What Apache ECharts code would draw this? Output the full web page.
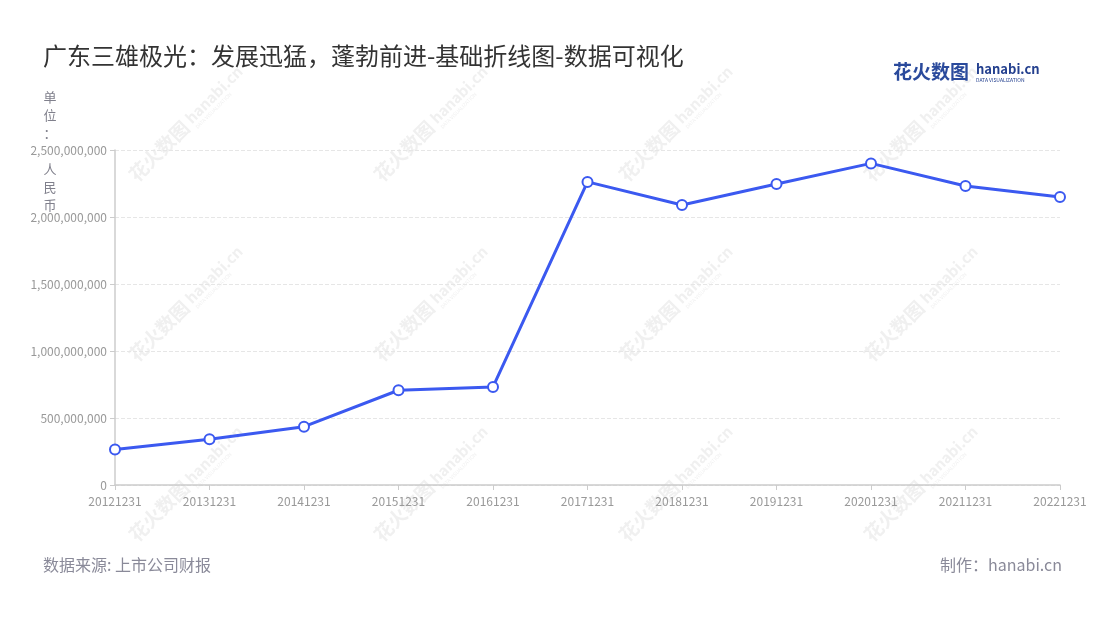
<!DOCTYPE html>
<html lang="zh">
<head>
    <meta charset="utf-8"/>
    <title>广东三雄极光</title>
    <script src="https://cdn.jsdelivr.net/npm/echarts@6/dist/echarts.min.js"></script>
    <style>
        html, body { margin: 0; padding: 0; background: #fff; }
        #chart { width: 1100px; height: 620px; }
    </style>
</head>
<body>
<div id="chart"></div>
<script type="text/javascript">
    // 报告期
    var periods = ['20121231', '20131231', '20141231', '20151231', '20161231', '20171231',
        '20181231', '20191231', '20201231', '20211231', '20221231'];
    // 数值（人民币）
    var values = [265000000, 342000000, 435000000, 707000000, 732000000, 2262000000,
        2090000000, 2246000000, 2400000000, 2231000000, 2149000000];
    // y轴刻度
    var yMin = 0, yMax = 2500000000, yStep = 500000000;
    var yName = '单\n位\n：\n \n人\n民\n币';

    var font = '"Noto Sans CJK SC", "Noto Sans", sans-serif';

    // 水印
    var marks = [];
    var xs = [184, 429, 674, 919];
    var ys = [128, 308, 488];
    for (var i = 0; i < xs.length; i++) {
        for (var j = 0; j < ys.length; j++) {
            marks.push({
                type: 'group',
                x: xs[i], y: ys[j],
                rotation: Math.PI / 4,
                silent: true,
                z: 0,
                children: [
                    {type: 'text', x: -72, y: -11, style: {text: '花火数图', fill: '#f0f0f0', font: 'bold 19px ' + font}},
                    {type: 'text', x: 8, y: -10, style: {text: 'hanabi.cn', fill: '#f0f0f0', font: 'bold 15px ' + font}},
                    {type: 'text', x: 9, y: 6, style: {text: 'DATA VISUALIZATION', fill: '#f0f0f0', font: '5px ' + font}}
                ]
            });
        }
    }

    var myChart = echarts.init(document.getElementById('chart'));
    var option = {
        backgroundColor: '#fff',
        textStyle: {fontFamily: font},
        title: {
            text: '广东三雄极光：发展迅猛，蓬勃前进-基础折线图-数据可视化',
            left: 38,
            top: 39,
            textStyle: {fontSize: 24, fontWeight: 'normal', color: '#333', fontFamily: font}
        },
        graphic: marks.concat([
            // logo
            {type: 'text', left: 893, top: 62, style: {text: '花火数图', fill: '#2a4a9c', font: 'bold 19px ' + font}},
            {type: 'text', left: 976, top: 63, style: {text: 'hanabi.cn', fill: '#24408f', font: 'bold 13px "Liberation Sans Narrow", ' + font}},
            {type: 'text', left: 976, top: 78, style: {text: 'DATA VISUALIZATION', fill: '#24408f', font: '5px ' + font}},
            // y轴单位
            {
                type: 'text', x: 50, y: 151,
                style: {
                    text: yName, fill: '#80808c', font: '13px ' + font, lineHeight: 18,
                    textAlign: 'center', textVerticalAlign: 'middle'
                }
            },
            // 底部
            {type: 'text', left: 43, top: 557, style: {text: '数据来源: 上市公司财报', fill: '#8a8a99', font: '16px ' + font}},
            {type: 'text', right: 38, top: 557, style: {text: '制作：hanabi.cn', fill: '#8a8a99', font: '16px ' + font}}
        ]),
        grid: {left: 115, right: 40, top: 150, bottom: 135},
        xAxis: {
            type: 'category',
            data: periods,
            boundaryGap: false,
            axisLine: {lineStyle: {color: '#ccc', width: 1.5}},
            axisTick: {show: true, alignWithLabel: true, lineStyle: {color: '#ccc'}},
            axisLabel: {color: '#999', fontSize: 12, margin: 10, interval: 0}
        },
        yAxis: {
            type: 'value',
            min: yMin,
            max: yMax,
            interval: yStep,
            axisLine: {show: true, lineStyle: {color: '#ccc', width: 1.5}},
            axisTick: {show: true, lineStyle: {color: '#ccc'}},
            axisLabel: {
                color: '#999',
                fontSize: 12,
                formatter: function (v) { return v.toLocaleString('en-US'); }
            },
            splitLine: {lineStyle: {type: 'dashed', color: '#e6e6e6'}}
        },
        series: [{
            type: 'line',
            data: values,
            symbol: 'emptyCircle',
            symbolSize: 10,
            z: 5,
            lineStyle: {color: '#3b59f0', width: 3},
            itemStyle: {color: '#3b59f0', borderWidth: 2, borderColor: '#3b59f0'}
        }]
    };
    myChart.setOption(option);
</script>
</body>
</html>
